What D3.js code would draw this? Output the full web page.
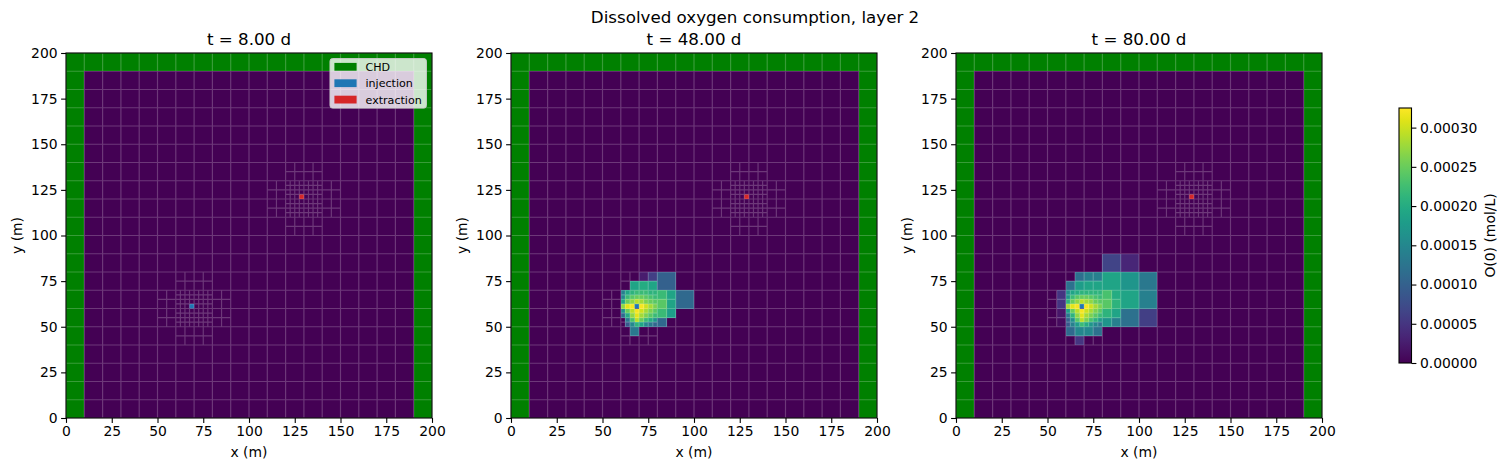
<!DOCTYPE html>
<html>
<head>
<meta charset="utf-8">
<title>Dissolved oxygen consumption</title>
<script src="https://d3js.org/d3.v7.min.js"></script>
<style>
  body { margin: 0; background: #fff; }
  svg text { font-family: "DejaVu Sans", sans-serif; fill: #000; }
</style>
</head>
<body>
<div id="chart"></div>
<script>
var suptitle = "Dissolved oxygen consumption, layer 2";
var panelTitles = ["t = 8.00 d", "t = 48.00 d", "t = 80.00 d"];
var axisTicks = [0, 25, 50, 75, 100, 125, 150, 175, 200];
var colorTicks = [0, 0.00005, 0.0001, 0.00015, 0.0002, 0.00025, 0.0003];
var colorMax = 0.000325;
var colorLabel = "O(0) (mol/L)";
var legendLabels = ["CHD", "injection", "extraction"];
var legendColors = ["#008000", "#1f77b4", "#d62728"];

// model grid: 20 x 20 cells of 10 m, refined to 5 m and 2.5 m round each well
var refineCenters = [[70, 60], [130, 120]];
var wellCells = [[67.5, 60], [127.5, 120]];   // lower left corner of the 2.5 m well cells

// concentrations, in 1e-5 mol/L
// fine:   2.5 m cells, x 60-80, y 70 -> 50 (rows from the top)
// mid:    5 m cells,   x 50-90, y 80 -> 40 (only read where the grid has 5 m cells)
// coarse: 10 m cells,  x 40-120, y 100 -> 30
var fine8 = [], mid8 = [], coarse8 = [];

var fine48 = [
  [14, 19, 21, 22, 22, 22, 21, 21],
  [15, 22, 24, 25, 25, 24, 23, 22],
  [19, 25, 27, 29, 28, 26, 25, 24],
  [27, 31, 32,  0, 32, 30, 28, 26],
  [16, 25, 29, 32, 30, 28, 26, 24],
  [11, 20, 27, 31, 28, 26, 24, 22],
  [ 0, 13, 23, 29, 25, 22, 20, 17],
  [ 0,  9, 15, 21, 19, 15, 13, 11]
];
var mid48 = [
  [0, 0, 0,  0, 2.5, 6,  0,  0],
  [0, 0, 0, 19, 20, 19,  0,  0],
  [0, 0, 0,  0,  0,  0, 22, 19],
  [0, 0, 0,  0,  0,  0, 24, 19],
  [0, 0, 0,  0,  0,  0, 22, 18],
  [0, 0, 0,  0,  0,  0, 11,  0],
  [0, 0, 0, 13,  0,  0,  0,  0],
  [0, 0, 0,  0,  0,  0,  0,  0]
];
var coarse48 = [
  [0, 0, 0, 0,  0,  0, 0, 0],
  [0, 0, 0, 0,  0,  0, 0, 0],
  [0, 0, 0, 0, 10,  0, 0, 0],
  [0, 0, 0, 0,  0, 11, 0, 0],
  [0, 0, 0, 0,  0,  0, 0, 0],
  [0, 0, 0, 0,  0,  0, 0, 0],
  [0, 0, 0, 0,  0,  0, 0, 0]
];

var fine80 = [
  [16, 19, 20, 21, 21, 21, 21, 21],
  [17, 22, 24, 25, 25, 24, 23, 22],
  [21, 25, 27, 29, 28, 27, 25, 24],
  [28, 31, 32,  0, 32, 30, 28, 26],
  [18, 25, 29, 32, 30, 28, 26, 24],
  [13, 21, 27, 31, 28, 26, 24, 22],
  [10, 16, 24, 29, 26, 23, 21, 18],
  [ 9, 14, 18, 22, 20, 17, 15, 13]
];
var mid80 = [
  [0, 0,  0, 12, 14, 14,  0,  0],
  [0, 0, 12, 18, 19, 19,  0,  0],
  [0, 5,  0,  0,  0,  0, 23, 20],
  [0, 5,  0,  0,  0,  0, 24, 21],
  [0, 2,  0,  0,  0,  0, 21, 19],
  [0, 1,  0,  0,  0,  0, 17, 14],
  [0, 0, 11, 15, 15, 12,  0,  0],
  [0, 0,  0,  5,  0,  0,  0,  0]
];
var coarse80 = [
  [0, 0, 0, 0,   0,   0,  0, 0],
  [0, 0, 0, 0, 6.5, 3.5,  0, 0],
  [0, 0, 0, 0,  19,  17, 13, 0],
  [0, 0, 0, 0,   0,  19, 14, 0],
  [0, 0, 0, 0,   0,  12,  6, 0],
  [0, 0, 0, 0,   0,   0,  0, 0],
  [0, 0, 0, 0,   0,   0,  0, 0]
];

var panels = [
  {fine: fine8, mid: mid8, coarse: coarse8},
  {fine: fine48, mid: mid48, coarse: coarse48},
  {fine: fine80, mid: mid80, coarse: coarse80}
];

var W = 1508, H = 471;
var panelLeft = [66, 511, 956], panelTop = 53, pw = 366, ph = 365;

var svg = d3.select("#chart").append("svg").attr("width", W).attr("height", H);

var x = d3.scaleLinear().domain([0, 200]).range([0, pw]);
var y = d3.scaleLinear().domain([0, 200]).range([ph, 0]);
var color = function(v){ return d3.interpolateViridis(Math.max(0, Math.min(1, v * 1e-5 / colorMax))); };

function refineLevel(x0, y0){
  for (var k = 0; k < refineCenters.length; k++){
    var ix = (x0 - refineCenters[k][0]) / 10, iy = (y0 - refineCenters[k][1]) / 10;
    var inX = ix === -1 || ix === 0, inY = iy === -1 || iy === 0;
    if (inX && inY) return 2;
    if ((inY && (ix === -2 || ix === 1)) || (inX && (iy === -2 || iy === 1))) return 1;
  }
  return 0;
}

var cells = [];
for (var i = 0; i < 20; i++){
  for (var j = 0; j < 20; j++){
    var s = 10 / Math.pow(2, refineLevel(i * 10, j * 10));
    for (var a = 0; a < 10; a += s)
      for (var b = 0; b < 10; b += s)
        cells.push({x0: i * 10 + a, y0: j * 10 + b, s: s});
  }
}

function pick(m, r, c){
  if (!m[r] || m[r][c] === undefined) return 0;
  return m[r][c];
}

function cellValue(c, p){
  if (c.s === 2.5){
    if (c.x0 < 60 || c.x0 >= 80 || c.y0 < 50 || c.y0 >= 70) return 0;
    return pick(p.fine, Math.round((67.5 - c.y0) / 2.5), Math.round((c.x0 - 60) / 2.5));
  }
  if (c.s === 5){
    if (c.x0 < 50 || c.x0 >= 90 || c.y0 < 40 || c.y0 >= 80) return 0;
    return pick(p.mid, Math.round((75 - c.y0) / 5), Math.round((c.x0 - 50) / 5));
  }
  if (c.x0 < 40 || c.x0 >= 120 || c.y0 < 30 || c.y0 >= 100) return 0;
  return pick(p.coarse, Math.round((90 - c.y0) / 10), Math.round((c.x0 - 40) / 10));
}

function isChd(c){ return c.x0 < 10 || c.x0 >= 190 || c.y0 >= 190; }

// grid outline, shared edges drawn once
var segs = {}, gridPath = "";
cells.forEach(function(c){
  var e = [[c.x0, c.y0, c.x0 + c.s, c.y0], [c.x0, c.y0 + c.s, c.x0 + c.s, c.y0 + c.s],
           [c.x0, c.y0, c.x0, c.y0 + c.s], [c.x0 + c.s, c.y0, c.x0 + c.s, c.y0 + c.s]];
  e.forEach(function(q){
    var key = q.join(",");
    if (segs[key]) return;
    segs[key] = true;
    gridPath += "M" + x(q[0]) + "," + y(q[1]) + "L" + x(q[2]) + "," + y(q[3]);
  });
});

svg.append("text")
    .attr("x", 755).attr("y", 23)
    .attr("text-anchor", "middle")
    .style("font-size", "16.7px")
    .text(suptitle);

panels.forEach(function(p, k){
  var g = svg.append("g").attr("transform", "translate(" + panelLeft[k] + "," + panelTop + ")");

  g.append("g").selectAll("rect")
    .data(cells)
    .enter().append("rect")
      .attr("x", function(d){ return x(d.x0); })
      .attr("y", function(d){ return y(d.y0 + d.s); })
      .attr("width", function(d){ return x(d.s) - x(0); })
      .attr("height", function(d){ return y(0) - y(d.s); })
      .attr("shape-rendering", "crispEdges")
      .attr("fill", function(d){
        if (isChd(d)) return legendColors[0];
        return color(cellValue(d, p));
      });

  g.append("g").selectAll("rect")
    .data(wellCells)
    .enter().append("rect")
      .attr("x", function(d){ return x(d[0]); })
      .attr("y", function(d){ return y(d[1] + 2.5); })
      .attr("width", x(2.5) - x(0))
      .attr("height", y(0) - y(2.5))
      .attr("fill", function(d, i){ return legendColors[i + 1]; });

  g.append("path")
    .attr("d", gridPath)
    .attr("fill", "none")
    .attr("stroke", "#fff")
    .attr("stroke-opacity", 0.22)
    .attr("stroke-width", 1.2);

  g.append("rect")
    .attr("width", pw).attr("height", ph)
    .attr("fill", "none").attr("stroke", "#000").attr("stroke-width", 1.1);

  var xa = g.append("g")
      .attr("transform", "translate(0," + ph + ")")
      .call(d3.axisBottom(x).tickValues(axisTicks).tickSize(4.9).tickPadding(3.5).tickFormat(d3.format("d")));
  var ya = g.append("g")
      .call(d3.axisLeft(y).tickValues(axisTicks).tickSize(4.9).tickPadding(3.5).tickFormat(d3.format("d")));
  [xa, ya].forEach(function(ax){
    ax.select(".domain").remove();
    ax.selectAll(".tick line").attr("stroke", "#000").attr("stroke-width", 1.1);
    ax.selectAll(".tick text").style("font-size", "13.9px").style("font-family", "DejaVu Sans, sans-serif");
  });

  g.append("text")
    .attr("x", pw / 2).attr("y", -8.5)
    .attr("text-anchor", "middle")
    .style("font-size", "16.7px")
    .text(panelTitles[k]);

  g.append("text")
    .attr("x", pw / 2).attr("y", ph + 39)
    .attr("text-anchor", "middle")
    .style("font-size", "13.9px")
    .text("x (m)");

  g.append("text")
    .attr("transform", "translate(-44," + (ph / 2) + ") rotate(-90)")
    .attr("text-anchor", "middle")
    .style("font-size", "13.9px")
    .text("y (m)");

  if (k === 0){
    var lg = g.append("g").attr("transform", "translate(264,5.6)");
    lg.append("rect")
      .attr("width", 96.4).attr("height", 49.5).attr("rx", 2.5)
      .attr("fill", "#fff").attr("fill-opacity", 0.8)
      .attr("stroke", "#ccc").attr("stroke-width", 1);
    legendLabels.forEach(function(l, i){
      lg.append("rect")
        .attr("x", 4.4).attr("y", 8.2 + i * 16.4 - 3.9)
        .attr("width", 22.2).attr("height", 7.8)
        .attr("fill", legendColors[i]);
      lg.append("text")
        .attr("x", 35.5).attr("y", 8.2 + i * 16.4 + 4)
        .style("font-size", "11.1px")
        .text(l);
    });
  }
});

// colorbar
var cbX = 1399, cbTop = 108, cbH = 255, cbW = 12.5;
var cy = d3.scaleLinear().domain([0, colorMax]).range([cbTop + cbH, cbTop]);
var grad = svg.append("defs").append("linearGradient")
    .attr("id", "cb").attr("x1", 0).attr("y1", 1).attr("x2", 0).attr("y2", 0);
d3.range(0, 1.0001, 0.05).forEach(function(t){
  grad.append("stop").attr("offset", t).attr("stop-color", d3.interpolateViridis(t));
});
svg.append("rect")
  .attr("x", cbX).attr("y", cbTop).attr("width", cbW).attr("height", cbH)
  .attr("fill", "url(#cb)");
svg.append("rect")
  .attr("x", cbX).attr("y", cbTop).attr("width", cbW).attr("height", cbH)
  .attr("fill", "none").attr("stroke", "#000").attr("stroke-width", 1.1);
var ca = svg.append("g")
    .attr("transform", "translate(" + (cbX + cbW) + ",0)")
    .call(d3.axisRight(cy).tickValues(colorTicks).tickSize(4.9).tickPadding(3.5).tickFormat(d3.format(".5f")));
ca.select(".domain").remove();
ca.selectAll(".tick line").attr("stroke", "#000").attr("stroke-width", 1.1);
ca.selectAll(".tick text").style("font-size", "13.9px").style("font-family", "DejaVu Sans, sans-serif");

svg.append("text")
  .attr("transform", "translate(1495," + (cbTop + cbH / 2) + ") rotate(-90)")
  .attr("text-anchor", "middle")
  .style("font-size", "13.9px")
  .text(colorLabel);
</script>
</body>
</html>
